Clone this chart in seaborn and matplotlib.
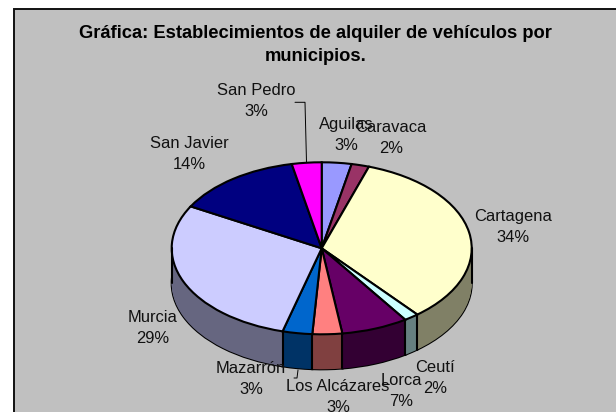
# Pie chart with fake 3D look: alquiler de vehiculos por municipio
import numpy as np
import matplotlib
matplotlib.use("Agg")
import matplotlib.pyplot as plt
from matplotlib.patches import Rectangle
import seaborn as sns

title = "Gráfica: Establecimientos de alquiler de vehículos por\nmunicipios."
municipios = ["Aguilas", "Caravaca", "Cartagena", "Ceutí", "Lorca",
              "Los Alcázares", "Mazarrón", "Murcia", "San Javier", "San Pedro"]
valores = [3.2, 1.9, 33.9, 1.6, 7.2, 3.2, 3.2, 28.9, 13.7, 3.2]
colores = ["#9999FF", "#993366", "#FFFFCC", "#CCFFFF", "#660066",
           "#FF8080", "#0066CC", "#CCCCFF", "#000080", "#FF00FF"]

# label centres in image pixels (first line centre)
label_px = [(346, 124), (391, 127), (513, 216), (435, 367), (401, 380),
            (338, 386), (251, 368), (153, 317), (189, 143), (256, 90)]

W, H = 616, 412
CX, CY = 321.7, 248.3   # pie centre
RX, RY = 150.0, 86.0    # ellipse radii
DEPTH = 35.0 / RY
LW = 1.5

sns.set_theme(style="white")
plt.rcParams["font.family"] = ["Liberation Sans", "DejaVu Sans"]


def px(x, y):
    # image pixels -> data units of the pie
    return (x - CX) / RX, (CY - y) / RY


paleta = sns.color_palette(colores)
oscuros = [tuple(np.array(c) * 0.5) for c in paleta]

fig = plt.figure(figsize=(W / 100, H / 100), dpi=100, facecolor="white")
ax = fig.add_axes([0, 0, 1, 1])

# side of the pie: outline of the bottom first, then stacked copies going up
ax.pie(valores, colors=oscuros, startangle=90, counterclock=False,
       center=(0, -DEPTH), wedgeprops={"linewidth": LW, "edgecolor": "black"})
for off in np.linspace(DEPTH, 0.005, 40):
    ax.pie(valores, colors=oscuros, startangle=90, counterclock=False,
           center=(0, -off), wedgeprops={"linewidth": 0})

# top face
ax.pie(valores, colors=paleta, startangle=90, counterclock=False,
       wedgeprops={"linewidth": LW, "edgecolor": "black"})

ax.set_aspect("auto")
ax.set_xlim(-CX / RX, (W - CX) / RX)
ax.set_ylim((CY - H) / RY, CY / RY)
ax.set_axis_off()

# panel behind everything, runs off the right and bottom edges
fig.patches.append(Rectangle((14 / W, -0.02), 1, 1 - 8.5 / H + 0.02,
                             transform=fig.transFigure, facecolor="#C0C0C0",
                             edgecolor="#111111", linewidth=1.4, zorder=-5))

# vertical edges on the front of the pie
angulos = np.cumsum(valores) / np.sum(valores) * 2 * np.pi
for a in angulos:
    if np.cos(a) < 0:
        ax.plot([np.sin(a)] * 2, [np.cos(a), np.cos(a) - DEPTH], color="black", lw=LW)
for side in (-1, 1):
    ax.plot([side, side], [0, -DEPTH], color="black", lw=LW)

# leader lines
xs, ys = zip(*[px(295, 102.3), px(305, 102.3), px(306.5, 162)])
ax.plot(xs, ys, color="black", lw=0.7)
xs, ys = zip(*[px(294, 378), px(297, 378), px(298, 370)])
ax.plot(xs, ys, color="black", lw=0.7)

for nombre, v, (lx, ly) in zip(municipios, valores, label_px):
    tx, ty = px(lx, ly - 7)
    ax.text(tx, ty, f"{nombre}\n{round(v)}%", ha="center", va="top", fontsize=11.9,
            color="#111111", linespacing=1.5, clip_on=True)

ax.text(*px(315.5, 25), title, ha="center", va="top", fontsize=13.2, fontweight="bold",
        color="black", linespacing=1.5)

fig.savefig("out.png", dpi=100, facecolor="white")
